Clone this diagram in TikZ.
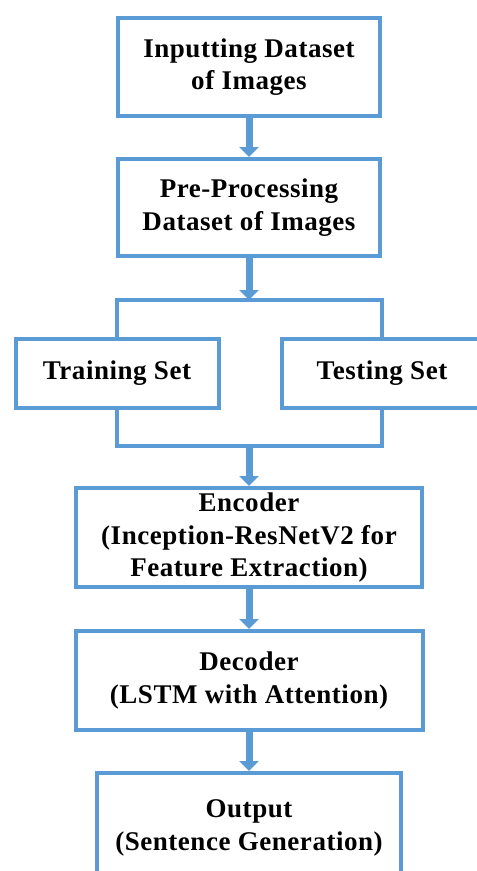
\documentclass[tikz,border=0pt]{standalone}
\usepackage{fontspec}
\setmainfont{Liberation Serif}[LetterSpace=2]
\usepackage{tikz}
\usetikzlibrary{arrows.meta, positioning}
\usepackage{xcolor}
\definecolor{boxblue}{HTML}{5B9BD5}

\begin{document}
\begin{tikzpicture}[
x=1pt, y=-1pt,
box/.style={draw=boxblue, line width=4pt, align=center, inner sep=0pt,
  font=\fontsize{27}{32.5}\selectfont\bfseries},
link/.style={draw=boxblue, line width=4pt},
flow/.style={draw=boxblue, line width=7pt, -{Triangle[length=10pt,width=19pt]}},
]
\useasboundingbox (0,0) rectangle (477,871);
\clip (0,0) rectangle (477,871);

\node[box, minimum width=262pt, minimum height=98pt] (In) at (249,67) {Inputting Dataset\\of Images};
\node[box, minimum width=262pt, minimum height=97pt] (Pre) at (249,207.5) {Pre-Processing\\Dataset of Images};
\node[box, minimum width=203pt, minimum height=69pt] (Train) at (117,373.5) {Training Set};
\node[box, minimum width=201pt, minimum height=69pt] (Test) at (382,373.5) {Testing Set};
\node[box, minimum width=346pt, minimum height=99pt] (Enc) at (249,537.5) {Encoder\\(Inception-ResNetV2 for\\Feature Extraction)};
\node[box, minimum width=347pt, minimum height=99pt] (Dec) at (249,680.5) {Decoder\\(LSTM with Attention)};
\node[box, minimum width=304pt, minimum height=110pt] (Out) at (249,828) {Output\\(Sentence Generation)};

\coordinate (Split) at (249,300);
\coordinate (Join) at (249,446);

% Split and join
\draw[link] (Train.north) |- (Split) -| (Test.north);
\draw[link] (Train.south) |- (Join) -| (Test.south);

% Arrows
\draw[flow] (In) -- (Pre);
\draw[flow] (Pre) -- (Split);
\draw[flow] (Join) -- (Enc);
\draw[flow] (Enc) -- (Dec);
\draw[flow] (Dec) -- (Out);

\end{tikzpicture}
\end{document}
